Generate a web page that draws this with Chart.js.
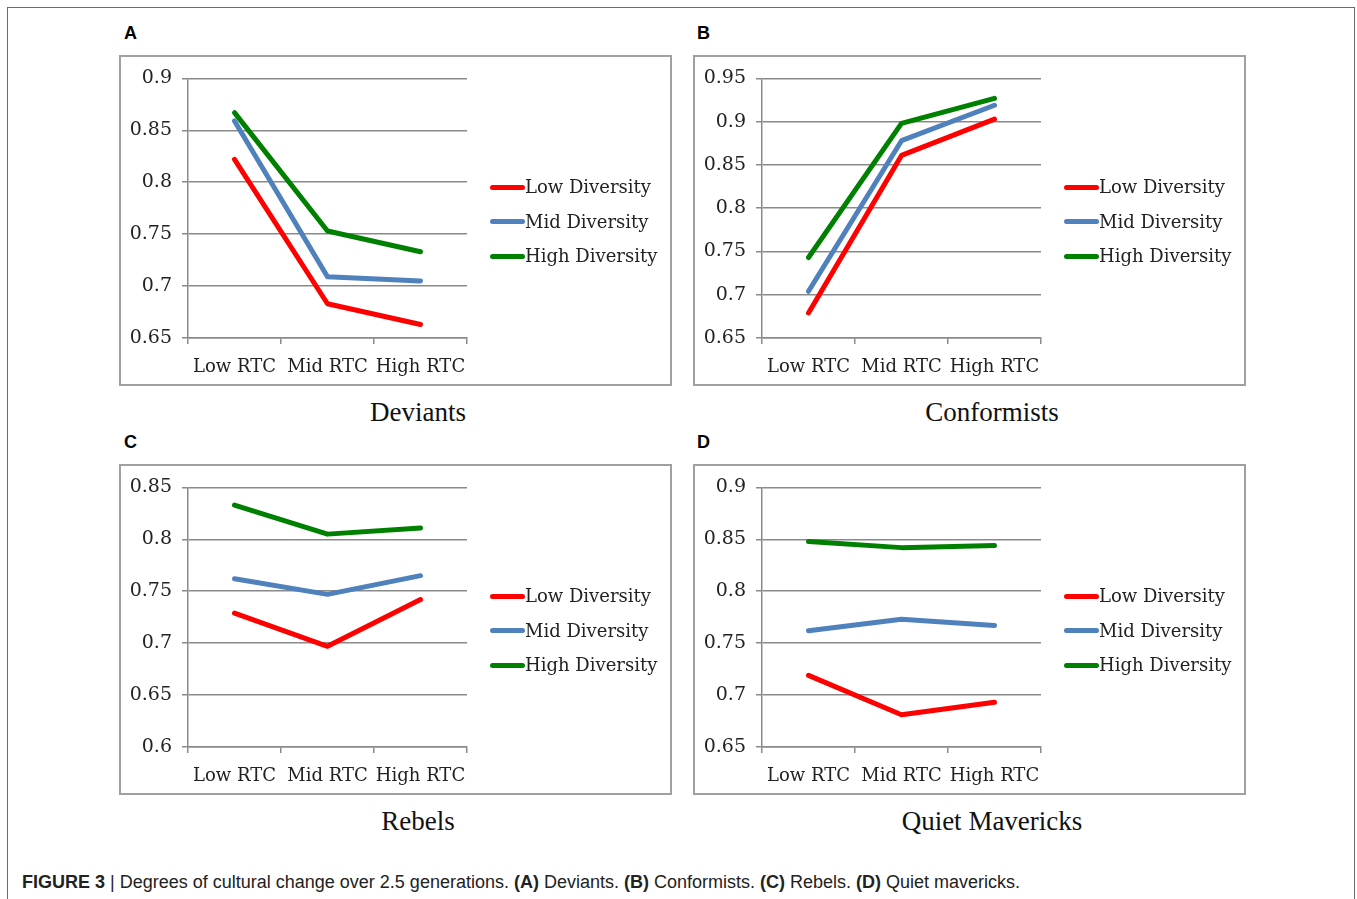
<!DOCTYPE html>
<html>
<head>
<meta charset="utf-8">
<title>Figure 3</title>
<script src="https://cdn.jsdelivr.net/npm/chart.js@4.4.0/dist/chart.umd.min.js"></script>
<style>
  body { margin: 0; width: 1357px; height: 899px; overflow: hidden; background: #fff; position: relative; }
  .frame { position: absolute; left: 7px; top: 7px; width: 1346px; height: 1000px; border: 1px solid #6b6b6b; }
  .box { position: absolute; width: 549px; height: 327px; border: 2px solid #a0a0a0; }
  .box canvas { display: block; }
  .legend { position: absolute; left: 369px; top: 113px; }
  .legend-item { height: 34.5px; display: flex; align-items: center;
                 font: 18px/1 "DejaVu Serif", serif; color: #222; white-space: nowrap; }
  .legend-line { display: inline-block; width: 35px; height: 5px; border-radius: 2.5px; }
  .letter { position: absolute; font: bold 18px/1 "Liberation Sans", Arial, sans-serif; color: #000; }
  .title { position: absolute; width: 300px; margin-left: -150px; text-align: center;
           font: 27px/1 "Liberation Serif", serif; color: #111; }
  .caption { position: absolute; left: 22px; top: 873px; white-space: nowrap;
             font: 18px/1 "Liberation Sans", Arial, sans-serif; color: #222; }
</style>
</head>
<body>
<div class="frame"></div>

<div class="letter" style="left:124px; top:24px;">A</div>
<div class="letter" style="left:697px; top:24px;">B</div>
<div class="letter" style="left:124px; top:433px;">C</div>
<div class="letter" style="left:697px; top:433px;">D</div>

<div class="box" style="left:119px; top:55px;"><canvas id="chartA" width="549" height="327"></canvas><div class="legend" id="legendA"></div></div>
<div class="box" style="left:693px; top:55px;"><canvas id="chartB" width="549" height="327"></canvas><div class="legend" id="legendB"></div></div>
<div class="box" style="left:119px; top:464px;"><canvas id="chartC" width="549" height="327"></canvas><div class="legend" id="legendC"></div></div>
<div class="box" style="left:693px; top:464px;"><canvas id="chartD" width="549" height="327"></canvas><div class="legend" id="legendD"></div></div>

<div class="title" style="left:418px; top:399px;">Deviants</div>
<div class="title" style="left:992px; top:399px;">Conformists</div>
<div class="title" style="left:418px; top:808px;">Rebels</div>
<div class="title" style="left:992px; top:808px;">Quiet Mavericks</div>

<div class="caption"><b>FIGURE 3</b> | Degrees of cultural change over 2.5 generations. <b>(A)</b> Deviants. <b>(B)</b> Conformists. <b>(C)</b> Rebels. <b>(D)</b> Quiet mavericks.</div>

<script>
// Categories and series
const categories = ['Low RTC', 'Mid RTC', 'High RTC'];
const seriesNames = ['Low Diversity', 'Mid Diversity', 'High Diversity'];
const seriesColors = ['#ff0000', '#4f81bd', '#008000'];

// A - Deviants
const deviantsLow = [0.822, 0.683, 0.663];
const deviantsMid = [0.859, 0.709, 0.705];
const deviantsHigh = [0.867, 0.753, 0.733];
const deviantsRange = [0.65, 0.9];

// B - Conformists
const conformistsLow = [0.679, 0.861, 0.903];
const conformistsMid = [0.704, 0.878, 0.919];
const conformistsHigh = [0.743, 0.898, 0.927];
const conformistsRange = [0.65, 0.95];

// C - Rebels
const rebelsLow = [0.729, 0.697, 0.742];
const rebelsMid = [0.762, 0.747, 0.765];
const rebelsHigh = [0.833, 0.805, 0.811];
const rebelsRange = [0.6, 0.85];

// D - Quiet Mavericks
const mavericksLow = [0.719, 0.681, 0.693];
const mavericksMid = [0.762, 0.773, 0.767];
const mavericksHigh = [0.848, 0.842, 0.844];
const mavericksRange = [0.65, 0.9];

const stepSize = 0.05;
const gridColor = '#8a8a8a';
const textColor = '#222';
const serif = 'DejaVu Serif';

// Legend built as html next to the plot, from the chart's own legend items
const htmlLegend = {
    id: 'htmlLegend',
    afterUpdate(chart, args, options) {
        const container = document.getElementById(options.containerID);
        container.innerHTML = '';
        const items = chart.options.plugins.legend.labels.generateLabels(chart);
        items.forEach(item => {
            const row = document.createElement('div');
            row.className = 'legend-item';
            const line = document.createElement('span');
            line.className = 'legend-line';
            line.style.background = item.strokeStyle;
            const text = document.createElement('span');
            text.textContent = item.text;
            row.appendChild(line);
            row.appendChild(text);
            container.appendChild(row);
        });
    }
};

function makePanel(id, legendId, low, mid, high, range) {
    const ctx = document.getElementById(id).getContext('2d');
    const values = [low, mid, high];
    new Chart(ctx, {
        type: 'line',
        data: {
            labels: categories,
            datasets: seriesNames.map((name, i) => ({
                label: name,
                data: values[i],
                borderColor: seriesColors[i],
                backgroundColor: seriesColors[i],
                borderWidth: 5,
                borderCapStyle: 'round',
                borderJoinStyle: 'round',
                pointRadius: 0,
                tension: 0,
                fill: false
            }))
        },
        options: {
            responsive: false,
            animation: false,
            events: [],
            layout: { padding: { top: 18, left: 0, right: 203, bottom: 0 } },
            plugins: {
                tooltip: { enabled: false },
                legend: { display: false },
                htmlLegend: { containerID: legendId }
            },
            scales: {
                x: {
                    offset: true,
                    afterFit: scale => { scale.height = 46; },
                    grid: {
                        offset: true,
                        drawOnChartArea: false,
                        drawTicks: true,
                        tickLength: 6,
                        color: gridColor,
                        lineWidth: 1.5
                    },
                    border: { color: gridColor, width: 1.5 },
                    ticks: {
                        padding: 13,
                        color: textColor,
                        font: { family: serif, size: 18 },
                        maxRotation: 0
                    }
                },
                y: {
                    min: range[0],
                    max: range[1],
                    afterFit: scale => { scale.width = 67; },
                    grid: {
                        color: gridColor,
                        lineWidth: 1.5,
                        tickLength: 6
                    },
                    border: { color: gridColor, width: 1.5 },
                    ticks: {
                        stepSize: stepSize,
                        padding: 10,
                        color: textColor,
                        font: { family: serif, size: 19 },
                        callback: v => String(+v.toFixed(2))
                    }
                }
            }
        },
        plugins: [htmlLegend]
    });
}

makePanel('chartA', 'legendA', deviantsLow, deviantsMid, deviantsHigh, deviantsRange);
makePanel('chartB', 'legendB', conformistsLow, conformistsMid, conformistsHigh, conformistsRange);
makePanel('chartC', 'legendC', rebelsLow, rebelsMid, rebelsHigh, rebelsRange);
makePanel('chartD', 'legendD', mavericksLow, mavericksMid, mavericksHigh, mavericksRange);
</script>
</body>
</html>
